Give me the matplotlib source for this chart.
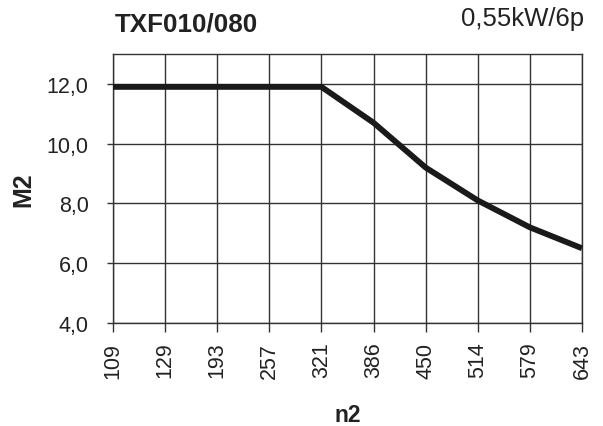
import matplotlib
matplotlib.use("Agg")
import matplotlib.pyplot as plt

plt.rcParams['font.family'] = ['Liberation Sans', 'DejaVu Sans']

n2_labels = ["109", "129", "193", "257", "321", "386", "450", "514", "579", "643"]
m2_values = [11.9, 11.9, 11.9, 11.9, 11.9, 10.7, 9.2, 8.1, 7.2, 6.5]
y_ticks = [4.0, 6.0, 8.0, 10.0, 12.0]
y_tick_labels = ["4,0", "6,0", "8,0", "10,0", "12,0"]
title_left = "TXF010/080"
title_right = "0,55kW/6p"

fig = plt.figure(figsize=(6.03, 4.27), dpi=100)
ax = fig.add_axes([113/603, 1 - 324/427, (582-113)/603, (324-55)/427])

x = list(range(len(n2_labels)))
ax.plot(x, m2_values, color='#1a1a1a', linewidth=4.2, solid_capstyle='butt',
        solid_joinstyle='round', zorder=3, clip_on=False)

ax.set_xlim(0, len(n2_labels) - 1)
ax.set_ylim(4, 13)
ax.set_xticks(x)
ax.set_xticklabels(n2_labels, rotation=90, fontsize=15.5, color='#222222')
ax.set_yticks(y_ticks)
ax.set_yticklabels(y_tick_labels, fontsize=15.5, color='#222222')
ax.tick_params(axis='x', direction='out', length=6.5, width=1.0, pad=7, color='#333333')
ax.tick_params(axis='y', direction='out', length=4.5, width=1.0, pad=13, color='#333333')
ax.grid(True, color='#333333', linewidth=1.0)
ax.set_axisbelow(True)
for s in ax.spines.values():
    s.set_color('#333333')
    s.set_linewidth(1.0)

ax.set_ylabel("M2", fontsize=18, fontweight='bold', labelpad=8, color='#222222')
ax.set_xlabel("n2", fontsize=16.5, fontweight='bold', labelpad=18, color='#222222')

fig.text(115/603, 1 - 32/427, title_left, fontsize=18.7, fontweight='bold',
         ha='left', va='baseline', color='#222222')
fig.text(584/603, 1 - 26/427, title_right, fontsize=18.5, ha='right',
         va='baseline', color='#222222')

fig.savefig("out.png", dpi=100)
